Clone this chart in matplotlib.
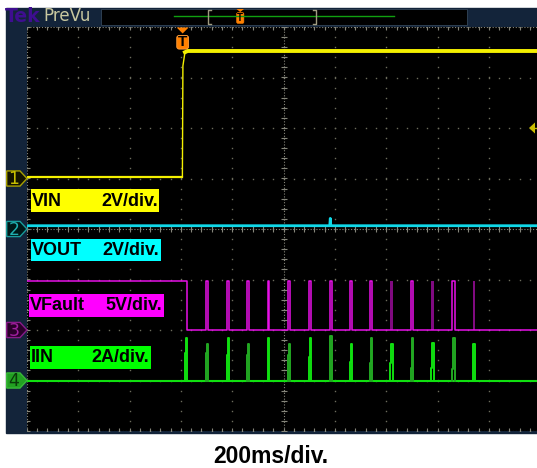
import matplotlib
matplotlib.use("Agg")
import matplotlib.pyplot as plt
import matplotlib.transforms as mtransforms
from matplotlib.patches import Rectangle, Polygon, FancyBboxPatch
import numpy as np

plt.rcParams["font.family"] = ["Liberation Sans", "DejaVu Sans"]

# scope settings: 200 ms/div, 10 x 8 divisions
ms_per_div = 200
n_hdiv = 10
n_vdiv = 8

ch_names = ["VIN", "VOUT", "VFault", "IIN"]
ch_scale_labels = ["2V/div.", "2V/div.", "5V/div.", "2A/div."]
ch_per_div = [2.0, 2.0, 5.0, 2.0]
ch_offset = [1, 0, -2, -3]          # ground marker position, divisions from centre
time_label = "200ms/div."

trig_t = 607                         # ms from left edge
trig_level = 2.0                     # V on channel 1

# channel 1: VIN (V)
vin_t = [0, 606, 608, 616, 626, 2000]
vin_v = [0.07, 0.07, 4.46, 5.0, 5.05, 5.05]

# channel 2: VOUT (V)
vout_t = [0, 1180, 1182, 1184, 2000]
vout_v = [0.13, 0.13, 0.42, 0.13, 0.13]

# channel 3: VFault (V)
vf_high = 4.9
vf_drop_t = 623
vf_pulse_t = [699, 781, 859, 939, 1019, 1100, 1180, 1260, 1337, 1416, 1497, 1576, 1657, 1736]
vf_pulse_w = [6, 5, 6, 5, 5, 8, 8, 8, 9, 9, 9, 10, 9, 10]
vf_pulse_dim = [False, False, False, False, False, False, False, False, False, True, False, True, False, True]

# channel 4: IIN (A) spikes
iin_t = [616, 699, 781, 859, 939, 1019, 1100, 1180, 1260, 1337, 1416, 1497, 1576, 1657, 1736]
iin_w = [7, 7, 6, 6, 6, 7, 8, 8, 8, 9, 9, 9, 9, 9, 9]
iin_mid = [1.10, 1.08, 1.02, 1.02, 0.96, 1.02, 0.95, 0.75, 0.75, 0.71, 0.71, 0.50, 0.50, 0.45, 0.42]
iin_peak = [1.68, 1.45, 1.68, 1.45, 1.68, 1.45, 1.68, 1.78, 1.45, 1.68, 1.45, 1.68, 1.48, 1.68, 1.45]

NAVY = "#13243a"
GRID = "#6c6c5c"
GRID2 = "#85857a"
YEL, CYA, MAG, GRN = "#f4f000", "#10d8e8", "#e810e8", "#10e010"
MAG_DIM, GRN_DIM = "#800a80", "#22a822"
box_colors = ["#ffff00", "#00ffff", "#ff00ff", "#00ff00"]

W, H = 537, 468
fig = plt.figure(figsize=(W / 100, H / 100), dpi=100)

bg = fig.add_axes([0, 0, 1, 1], zorder=1)
bg.set_xlim(0, W)
bg.set_ylim(H, 0)
bg.axis("off")
bg.add_patch(Rectangle((6, 8), W - 6, 425, color=NAVY))
bg.add_patch(Rectangle((101, 8.5), 366, 16, facecolor="black", edgecolor="#34465a", lw=0.6))

# graticule axes
gx0, gx1, gy0, gy1 = 26.8, 26.8 + 513.5, 27, 431
ax = fig.add_axes([gx0 / W, (H - gy1) / H, (gx1 - gx0) / W, (gy1 - gy0) / H], zorder=2)
ax.set_facecolor("black")
tmax = ms_per_div * n_hdiv
ax.set_xlim(0, tmax)
ax.set_ylim(-n_vdiv / 2, n_vdiv / 2)
ax.set_xticks([])
ax.set_yticks([])
for s in ax.spines.values():
    s.set_visible(False)

xs_major = np.arange(0, tmax + 1, ms_per_div)
ys_major = np.arange(-n_vdiv / 2, n_vdiv / 2 + 0.01, 1)
xs_fine = np.arange(0, tmax + 1, ms_per_div / 5)
ys_fine = np.arange(-n_vdiv / 2, n_vdiv / 2 + 0.01, 0.2)
X, Y = np.meshgrid(xs_major, ys_fine)
ax.plot(X.ravel(), Y.ravel(), ls="none", marker="s", ms=1.0, mew=0, color=GRID)
X, Y = np.meshgrid(xs_fine, ys_major)
ax.plot(X.ravel(), Y.ravel(), ls="none", marker="s", ms=1.0, mew=0, color=GRID)

# centre lines and border with dense dots and ticks
for xv in [0, tmax / 2, tmax]:
    ax.axvline(xv, color=GRID2, lw=0.8, ls=(0, (1, 1.6)))
    ax.plot(np.full(len(ys_fine), xv), ys_fine, ls="none", marker="_", ms=4, mew=0.8, color=GRID2)
for yv in [-n_vdiv / 2, 0, n_vdiv / 2]:
    ax.axhline(yv, color=GRID2, lw=0.8, ls=(0, (1, 1.6)))
    ax.plot(xs_fine, np.full(len(xs_fine), yv), ls="none", marker="|", ms=4, mew=0.8, color=GRID2)


def to_div(vals, ch):
    return [ch_offset[ch] + v / ch_per_div[ch] for v in vals]


# VIN
ax.plot(vin_t, to_div(vin_v, 0), color=YEL, lw=1.0, zorder=4)
ax.plot(vin_t[:2], to_div(vin_v[:2], 0), color=YEL, lw=1.6, zorder=4)
ax.plot(vin_t[3:], to_div(vin_v[3:], 0), color=YEL, lw=2.8, zorder=4)

# VOUT
ax.plot(vout_t, to_div(vout_v, 1), color=CYA, lw=2.0, zorder=4)

# VFault
vf_t, vf_v = [0, vf_drop_t, vf_drop_t], [vf_high, vf_high, 0]
for t, w, dim in zip(vf_pulse_t, vf_pulse_w, vf_pulse_dim):
    if dim:
        ax.fill_between([t, t + w], ch_offset[2], ch_offset[2] + vf_high / ch_per_div[2],
                        color=MAG_DIM, lw=0, zorder=4)
        continue
    vf_t += [t, t, t + w, t + w]
    vf_v += [0, vf_high, vf_high, 0]
vf_t.append(tmax)
vf_v.append(0)
ax.plot(vf_t, to_div(vf_v, 2), color=MAG, lw=1.1, zorder=4)

# IIN
ax.plot([0, tmax], to_div([0, 0], 3), color=GRN, lw=1.5, zorder=4)
for k, (t, w, m, p) in enumerate(zip(iin_t, iin_w, iin_mid, iin_peak)):
    st = [t, t, t + 0.35 * w, t + 0.35 * w, t + w, t + w]
    sv = [0, m, m, p, p, 0]
    ax.plot(st, to_div(sv, 3), color=GRN if k % 2 == 0 else GRN_DIM, lw=1.4, zorder=5)

# overlay: markers, labels, top bar
ov = fig.add_axes([0, 0, 1, 1], zorder=3)
ov.set_xlim(0, W)
ov.set_ylim(H, 0)
ov.axis("off")
ov.patch.set_alpha(0)
px_div = mtransforms.blended_transform_factory(ov.transData, ax.transData)

mk_face = ["#141400", "#001818", "#2a002a", "#22a022"]
mk_edge = ["#a8a000", "#189c9c", "#8a1a8a", "#38b838"]
mk_text = ["#c8c000", "#20b0b0", "#a020a0", "#0a3a0a"]
for ch in range(4):
    yc = ch_offset[ch]
    h = 0.15
    poly = Polygon([(6.7, yc + h), (20, yc + h), (27, yc), (20, yc - h), (6.7, yc - h)],
                   closed=True, facecolor=mk_face[ch], edgecolor=mk_edge[ch], lw=1.0,
                   transform=px_div)
    ov.add_patch(poly)
    ov.text(14, yc - 0.01, str(ch + 1), transform=px_div, ha="center", va="center",
            fontsize=12.5, color=mk_text[ch], family="DejaVu Sans")

# channel label boxes
box_x0 = [30.7, 30.7, 29.3, 30.0]
box_x1 = [159.3, 161.0, 164.0, 151.0]
box_y0 = [189.3, 239.0, 294.0, 346.0]
box_y1 = [211.7, 261.0, 316.7, 369.0]
for ch in range(4):
    ov.add_patch(Rectangle((box_x0[ch], box_y0[ch]), box_x1[ch] - box_x0[ch],
                           box_y1[ch] - box_y0[ch], color=box_colors[ch], lw=0))
    yc = (box_y0[ch] + box_y1[ch]) / 2 + 0.5
    ov.text(box_x0[ch] + 1, yc, ch_names[ch], ha="left", va="center",
            fontsize=13, fontweight="bold", color="black")
    ov.text(box_x1[ch] - 1.5, yc, ch_scale_labels[ch], ha="right", va="center",
            fontsize=13, fontweight="bold", color="black")

# trigger marker at top of graticule
tx = gx0 + trig_t / tmax * (gx1 - gx0)
ov.add_patch(Polygon([(tx - 6, 27.5), (tx + 6, 27.5), (tx, 33.5)], color="#ff8000", lw=0))
ov.add_patch(FancyBboxPatch((tx - 5.3, 36), 10.6, 12.5, boxstyle="round,pad=0.6,rounding_size=2.5",
                            facecolor="#ff8000", edgecolor="#ffa040", lw=0.6))
ov.text(tx, 42.5, "T", ha="center", va="center", fontsize=11, fontweight="bold", color="black")

# trigger level arrow at right edge
ty = ch_offset[0] + trig_level / ch_per_div[0]
ov.add_patch(Polygon([(529, ty), (535, ty + 0.11), (535, ty - 0.11)], closed=True,
                     color="#c8bc00", lw=0, transform=px_div))
ov.plot([533, 537], [ty, ty], color="#c8bc00", lw=1.0, transform=px_div)

# top status bar
ov.text(5, 16.5, "Tek", ha="left", va="center", fontsize=13.5, fontweight="bold",
        color="#3e0e90", family="DejaVu Sans")
ov.text(43.5, 16, "PreVu", ha="left", va="center", fontsize=12, color="#c8c8a0", family="DejaVu Sans")
ov.plot([174, 394], [16.3, 16.3], color="#10a010", lw=1.0)
ov.plot([211, 208, 208, 211], [9.8, 9.8, 23.5, 23.5], color="#a09c80", lw=1.0)
ov.plot([313, 316, 316, 313], [9.8, 9.8, 23.5, 23.5], color="#a09c80", lw=1.0)
ov.add_patch(Polygon([(236.5, 9), (244, 9), (240.2, 12)], color="#ff8000", lw=0))
ov.add_patch(FancyBboxPatch((237, 13), 6.5, 10, boxstyle="round,pad=0.4,rounding_size=1.5",
                            facecolor="#ff8000", edgecolor="#ff8000", lw=0.4))
ov.text(240.2, 18, "T", ha="center", va="center", fontsize=7, fontweight="bold", color="black")

ov.text(271, 456.5, time_label, ha="center", va="center", fontsize=16.5,
        fontweight="bold", color="black")

fig.savefig("out.png", dpi=100, facecolor="white")
